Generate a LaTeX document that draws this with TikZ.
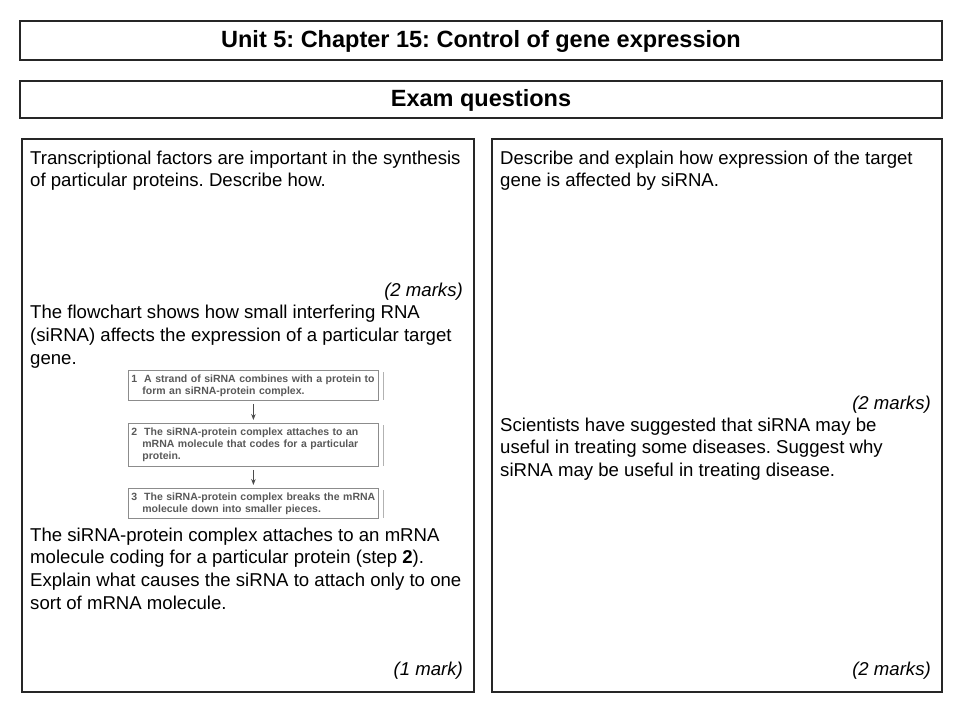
\documentclass[tikz,border=0pt]{standalone}
\usepackage{fontspec}
\setmainfont{Liberation Sans}
\frenchspacing
\usetikzlibrary{positioning,arrows.meta}
\tikzset{
  panel/.style={draw=black!85, line width=2.5pt},
  line/.style={anchor=base west, inner sep=0pt, font=\fontsize{18.6}{22}\selectfont},
  marks/.style={anchor=base east, inner sep=0pt, font=\fontsize{18.6}{22}\selectfont\itshape},
  stepbox/.style={draw=black!45, line width=0.8pt, anchor=north west, inner sep=3pt,
    text width=244pt, align=left, text=black!65, font=\fontsize{10.5}{12}\selectfont\bfseries},
  flow/.style={-{Stealth[length=6pt]}, black!70, line width=0.9pt}
}
\begin{document}
\begin{tikzpicture}[x=1pt,y=-1pt]
  \useasboundingbox (0,0) rectangle (960,720);
  % headings
  \draw[panel] (20,21) rectangle (942,60);
  \node[font=\fontsize{23.5}{28}\selectfont\bfseries] (title) at (481,41) {Unit 5: Chapter 15: Control of gene expression};
  \draw[panel] (20,81) rectangle (942,118);
  \node[font=\fontsize{23.5}{28}\selectfont\bfseries] (exam) at (481,100) {Exam questions};
  % panels
  \draw[panel] (22,139) rectangle (474,692);
  \draw[panel] (492,139) rectangle (942,692);

  % left panel
  \node[line] (l1) at (30,164) {Transcriptional factors are important in the synthesis};
  \node[line] (l2) at (30,186) {of particular proteins. Describe how.};
  \node[marks] (m1) at (463,296) {(2 marks)};
  \node[line] (l3) at (30,318) {The flowchart shows how small interfering RNA};
  \node[line] (l4) at (30,341) {(siRNA) affects the expression of a particular target};
  \node[line] (l5) at (30,364) {gene.};

  % flowchart
  \node[stepbox, minimum height=30pt] (s1) at (128,370) {1\ \ A strand of siRNA combines with a protein to\\\hspace*{11pt}form an siRNA-protein complex.};
  \node[stepbox, minimum height=43pt] (s2) at (128,423) {2\ \ The siRNA-protein complex attaches to an\\\hspace*{11pt}mRNA molecule that codes for a particular\\\hspace*{11pt}protein.};
  \node[stepbox, minimum height=30pt] (s3) at (128,488) {3\ \ The siRNA-protein complex breaks the mRNA\\\hspace*{11pt}molecule down into smaller pieces.};
  \draw[flow] ([yshift=-3pt]s1.south) -- ([yshift=3pt]s2.north);
  \draw[flow] ([yshift=-3pt]s2.south) -- ([yshift=3pt]s3.north);
  \draw[black!30, line width=1pt] (383,372) -- (383,400) (383,425) -- (383,466) (383,490) -- (383,518);

  \node[line] (l6) at (30,541) {The siRNA-protein complex attaches to an mRNA};
  \node[line] (l7) at (30,563) {molecule coding for a particular protein (step \textbf{2}).};
  \node[line] (l8) at (30,586) {Explain what causes the siRNA to attach only to one};
  \node[line] (l9) at (30,609) {sort of mRNA molecule.};
  \node[marks] (m2) at (463,675) {(1 mark)};

  % right panel
  \node[line] (r1) at (500,164) {Describe and explain how expression of the target};
  \node[line] (r2) at (500,186) {gene is affected by siRNA.};
  \node[marks] (m3) at (931,409) {(2 marks)};
  \node[line] (r3) at (500,431) {Scientists have suggested that siRNA may be};
  \node[line] (r4) at (500,453) {useful in treating some diseases. Suggest why};
  \node[line] (r5) at (500,476) {siRNA may be useful in treating disease.};
  \node[marks] (m4) at (931,675) {(2 marks)};
\end{tikzpicture}
\end{document}
